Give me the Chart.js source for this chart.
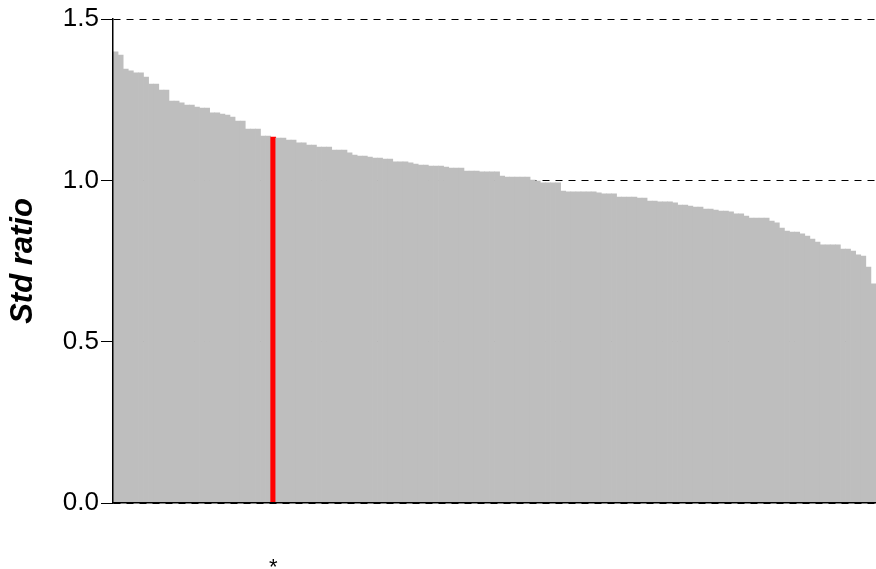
<!DOCTYPE html>
<html>
<head>
<meta charset="utf-8">
<script src="https://cdn.jsdelivr.net/npm/chart.js@4/dist/chart.umd.min.js"></script>
<style>
  body { margin: 0; background: #fff; }
  #wrap { width: 876px; height: 569px; }
</style>
</head>
<body>
<div id="wrap"><canvas id="stdChart" width="876" height="569"></canvas></div>
<script>
// std ratio per model, sorted high to low
const ratios = [
    1.398, 1.388, 1.345, 1.339, 1.333, 1.333, 1.320, 1.298, 1.298, 1.280,
    1.280, 1.246, 1.246, 1.240, 1.233, 1.233, 1.227, 1.224, 1.224, 1.209,
    1.209, 1.205, 1.202, 1.196, 1.184, 1.184, 1.159, 1.159, 1.159, 1.137,
    1.137, 1.134, 1.131, 1.131, 1.125, 1.125, 1.116, 1.116, 1.109, 1.109,
    1.103, 1.103, 1.103, 1.094, 1.094, 1.094, 1.085, 1.078, 1.075, 1.075,
    1.072, 1.069, 1.069, 1.066, 1.066, 1.057, 1.057, 1.057, 1.054, 1.050,
    1.047, 1.047, 1.044, 1.044, 1.044, 1.041, 1.038, 1.038, 1.038, 1.029,
    1.029, 1.029, 1.026, 1.026, 1.026, 1.026, 1.013, 1.010, 1.010, 1.010,
    1.010, 1.010, 1.001, 0.998, 0.992, 0.992, 0.992, 0.992, 0.967, 0.964,
    0.964, 0.964, 0.964, 0.964, 0.964, 0.961, 0.958, 0.958, 0.958, 0.948,
    0.948, 0.948, 0.948, 0.945, 0.945, 0.936, 0.936, 0.933, 0.933, 0.933,
    0.930, 0.923, 0.923, 0.920, 0.917, 0.917, 0.911, 0.911, 0.908, 0.905,
    0.905, 0.902, 0.896, 0.896, 0.889, 0.883, 0.883, 0.883, 0.883, 0.874,
    0.868, 0.852, 0.843, 0.840, 0.840, 0.834, 0.827, 0.818, 0.809, 0.800,
    0.800, 0.800, 0.800, 0.787, 0.787, 0.781, 0.769, 0.765, 0.731, 0.679
];
const highlightIndex = 31;
const highlightMark = '*';
const yTicks = [0, 0.5, 1.0, 1.5];
const yTitle = 'Std ratio';

const categories = ratios.map((v, i) => i + 1);
const barColors = ratios.map((v, i) => i === highlightIndex ? '#ff0000' : '#bebebe');

Chart.defaults.font.family = '"Liberation Sans", Arial, sans-serif';
Chart.defaults.color = '#000';

// asterisk under the highlighted bar
const starMark = {
    id: 'starMark',
    afterDraw(chart) {
        const x = chart.scales.x.getPixelForValue(highlightIndex);
        const ctx = chart.ctx;
        ctx.save();
        ctx.fillStyle = '#000';
        ctx.font = '22px "Liberation Sans", Arial, sans-serif';
        ctx.textAlign = 'center';
        ctx.textBaseline = 'alphabetic';
        ctx.fillText(highlightMark, x, chart.chartArea.bottom + 71);
        ctx.restore();
    }
};

const ctx = document.getElementById('stdChart').getContext('2d');
new Chart(ctx, {
    type: 'bar',
    data: {
        labels: categories,
        datasets: [{
            data: ratios,
            backgroundColor: barColors,
            borderWidth: 0,
            categoryPercentage: 1.0,
            barPercentage: 1.0
        }]
    },
    options: {
        responsive: false,
        animation: false,
        devicePixelRatio: 1,
        layout: { padding: { top: 19, right: 0, bottom: 66, left: 0 } },
        plugins: {
            legend: { display: false },
            tooltip: { enabled: false }
        },
        scales: {
            x: {
                grid: { display: true, drawOnChartArea: false, drawTicks: false },
                border: { display: true, color: '#000', width: 1.5, z: 1 },
                ticks: { display: false }
            },
            y: {
                min: 0,
                max: 1.5,
                afterBuildTicks: axis => { axis.ticks = yTicks.map(v => ({ value: v })); },
                afterFit: axis => { axis.width = 113; },
                ticks: {
                    callback: v => Number(v).toFixed(1),
                    font: { size: 26 },
                    color: '#000',
                    padding: 2
                },
                grid: {
                    color: '#000',
                    lineWidth: 1,
                    tickLength: 12,
                    tickColor: '#000',
                    tickBorderDash: [],
                    tickWidth: 1
                },
                border: { display: true, color: '#000', width: 1.5, dash: [7, 6], z: 1 },
                title: {
                    display: true,
                    text: yTitle,
                    font: { size: 31, weight: 'bold', style: 'italic' },
                    color: '#000',
                    padding: { top: 5, bottom: 0 }
                }
            }
        }
    },
    plugins: [starMark]
});
</script>
</body>
</html>
